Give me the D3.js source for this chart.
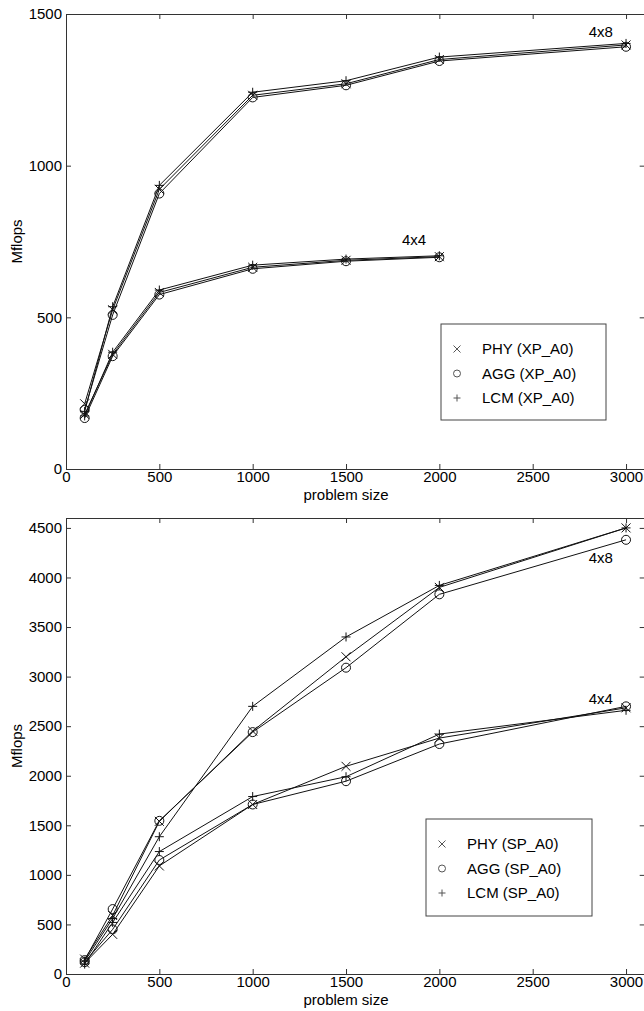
<!DOCTYPE html>
<html>
<head>
<meta charset="utf-8">
<script src="https://cdn.jsdelivr.net/npm/d3@7"></script>
<style>
  body { margin: 0; background: #fff; }
  svg { display: block; }
  svg text { font-family: "Liberation Sans", Arial, Helvetica, sans-serif; }
  .axis path, .axis line { stroke: #333; }
</style>
</head>
<body>
<div id="chart"></div>
<script>
'use strict';

// problem sizes
let sizes = [100, 250, 500, 1000, 1500, 2000, 3000];
let sizesXp4x4 = [100, 250, 500, 1000, 1500, 2000];
let xTicks = [0, 500, 1000, 1500, 2000, 2500, 3000];

// top panel (XP_A0), Mflops
let xpPhy4x8 = [215, 525, 922, 1232, 1270, 1350, 1398];
let xpAgg4x8 = [195, 508, 908, 1225, 1265, 1345, 1392];
let xpLcm4x8 = [190, 535, 935, 1242, 1280, 1358, 1403];
let xpPhy4x4 = [180, 378, 582, 665, 688, 700];
let xpAgg4x4 = [168, 372, 575, 660, 685, 698];
let xpLcm4x4 = [175, 385, 590, 672, 692, 703];
let xpTicks = [0, 500, 1000, 1500];

// bottom panel (SP_A0), Mflops
let spPhy4x8 = [150, 590, 1540, 2450, 3200, 3900, 4500];
let spAgg4x8 = [140, 655, 1545, 2440, 3090, 3830, 4380];
let spLcm4x8 = [130, 560, 1385, 2700, 3400, 3920, 4500];
let spPhy4x4 = [110, 400, 1090, 1710, 2095, 2380, 2685];
let spAgg4x4 = [120, 450, 1150, 1710, 1945, 2320, 2700];
let spLcm4x4 = [100, 520, 1235, 1790, 1990, 2420, 2660];
let spTicks = [0, 500, 1000, 1500, 2000, 2500, 3000, 3500, 4000, 4500];

let width = 644;
let height = 1011;
let fontSize = 15;

let svg = d3.select('#chart').append('svg')
    .attr('width', width)
    .attr('height', height);

function drawMarker(g, type, x, y, r, color) {
    if (type === 'x') {
        g.append('path')
            .attr('d', `M${x - r},${y - r}L${x + r},${y + r}M${x - r},${y + r}L${x + r},${y - r}`)
            .attr('stroke', color).attr('fill', 'none');
    } else if (type === 'o') {
        g.append('circle')
            .attr('cx', x).attr('cy', y).attr('r', r)
            .attr('stroke', color).attr('fill', 'none');
    } else {
        g.append('path')
            .attr('d', `M${x - r},${y}L${x + r},${y}M${x},${y - r}L${x},${y + r}`)
            .attr('stroke', color).attr('fill', 'none');
    }
}

function styleAxis(sel) {
    sel.attr('font-family', null).attr('font-size', null);
    sel.selectAll('text')
        .attr('font-size', fontSize)
        .attr('fill', '#000');
}

function drawPanel(cfg) {
    let xScale = d3.scaleLinear()
        .domain([0, 3100])
        .range([66, 644.7]);

    let yScale = d3.scaleLinear()
        .domain([0, cfg.yMax])
        .range([cfg.bottom, cfg.top]);

    let g = svg.append('g');
    let fmt = d3.format('d');

    // box with inward ticks on all four sides
    g.append('g')
        .attr('class', 'axis')
        .attr('transform', `translate(0, ${cfg.bottom})`)
        .call(d3.axisBottom(xScale).tickValues(xTicks).tickFormat(fmt).tickSizeInner(-5).tickSizeOuter(0).tickPadding(2))
        .call(styleAxis);

    g.append('g')
        .attr('class', 'axis')
        .attr('transform', `translate(0, ${cfg.top})`)
        .call(d3.axisTop(xScale).tickValues(xTicks).tickSizeInner(-5).tickSizeOuter(0).tickFormat(''));

    g.append('g')
        .attr('class', 'axis')
        .attr('transform', `translate(66, 0)`)
        .call(d3.axisLeft(yScale).tickValues(cfg.yTicks).tickFormat(fmt).tickSizeInner(-5).tickSizeOuter(0).tickPadding(4))
        .call(styleAxis);

    g.append('g')
        .attr('class', 'axis')
        .attr('transform', `translate(${xScale(3100)}, 0)`)
        .call(d3.axisRight(yScale).tickValues(cfg.yTicks).tickSizeInner(-5).tickSizeOuter(0).tickFormat(''));

    let line = d3.line()
        .x(d => xScale(d[0]))
        .y(d => yScale(d[1]));

    cfg.series.forEach(function (s) {
        let pts = s.xs.map((x, i) => [x, s.ys[i]]);
        g.append('path')
            .datum(pts)
            .attr('d', line)
            .attr('fill', 'none')
            .attr('stroke', '#111')
            .attr('stroke-width', 1);
        pts.forEach(function (p) {
            drawMarker(g, s.marker, xScale(p[0]), yScale(p[1]), 4.5, '#111');
        });
    });

    cfg.labels.forEach(function (l) {
        g.append('text')
            .text(l.text)
            .attr('x', xScale(l.x))
            .attr('y', yScale(l.y))
            .attr('dy', '0.35em')
            .attr('font-size', fontSize);
    });

    g.append('text')
        .text('problem size')
        .attr('text-anchor', 'middle')
        .attr('font-size', fontSize)
        .attr('transform', `translate(${xScale(1500)}, ${cfg.bottom + 31})`);

    g.append('text')
        .text('Mflops')
        .attr('text-anchor', 'middle')
        .attr('font-size', fontSize)
        .attr('transform', `translate(22, ${(cfg.top + cfg.bottom) / 2}), rotate(-90)`);

    // legend
    let lg = g.append('g');
    lg.append('rect')
        .attr('x', cfg.legend.x)
        .attr('y', cfg.legend.y)
        .attr('width', cfg.legend.w)
        .attr('height', cfg.legend.h)
        .attr('fill', '#fff')
        .attr('stroke', '#444');
    cfg.legend.items.forEach(function (item, i) {
        let cy = cfg.legend.y + 25 + i * 24.5;
        drawMarker(lg, item.marker, cfg.legend.x + 16, cy, 3.5, '#555');
        lg.append('text')
            .text(item.text)
            .attr('x', cfg.legend.x + 41)
            .attr('y', cy)
            .attr('dy', '0.35em')
            .attr('font-size', fontSize);
    });
}

drawPanel({
    top: 14,
    bottom: 469,
    yMax: 1500,
    yTicks: xpTicks,
    series: [
        { xs: sizes, ys: xpPhy4x8, marker: 'x' },
        { xs: sizes, ys: xpAgg4x8, marker: 'o' },
        { xs: sizes, ys: xpLcm4x8, marker: '+' },
        { xs: sizesXp4x4, ys: xpPhy4x4, marker: 'x' },
        { xs: sizesXp4x4, ys: xpAgg4x4, marker: 'o' },
        { xs: sizesXp4x4, ys: xpLcm4x4, marker: '+' }
    ],
    labels: [
        { text: '4x8', x: 2800, y: 1440 },
        { text: '4x4', x: 1800, y: 755 }
    ],
    legend: {
        x: 441, y: 324, w: 165, h: 96,
        items: [
            { marker: 'x', text: 'PHY (XP_A0)' },
            { marker: 'o', text: 'AGG (XP_A0)' },
            { marker: '+', text: 'LCM (XP_A0)' }
        ]
    }
});

drawPanel({
    top: 518,
    bottom: 974,
    yMax: 4600,
    yTicks: spTicks,
    series: [
        { xs: sizes, ys: spPhy4x8, marker: 'x' },
        { xs: sizes, ys: spAgg4x8, marker: 'o' },
        { xs: sizes, ys: spLcm4x8, marker: '+' },
        { xs: sizes, ys: spPhy4x4, marker: 'x' },
        { xs: sizes, ys: spAgg4x4, marker: 'o' },
        { xs: sizes, ys: spLcm4x4, marker: '+' }
    ],
    labels: [
        { text: '4x8', x: 2800, y: 4200 },
        { text: '4x4', x: 2800, y: 2780 }
    ],
    legend: {
        x: 426, y: 819, w: 166, h: 97,
        items: [
            { marker: 'x', text: 'PHY (SP_A0)' },
            { marker: 'o', text: 'AGG (SP_A0)' },
            { marker: '+', text: 'LCM (SP_A0)' }
        ]
    }
});
</script>
</body>
</html>
